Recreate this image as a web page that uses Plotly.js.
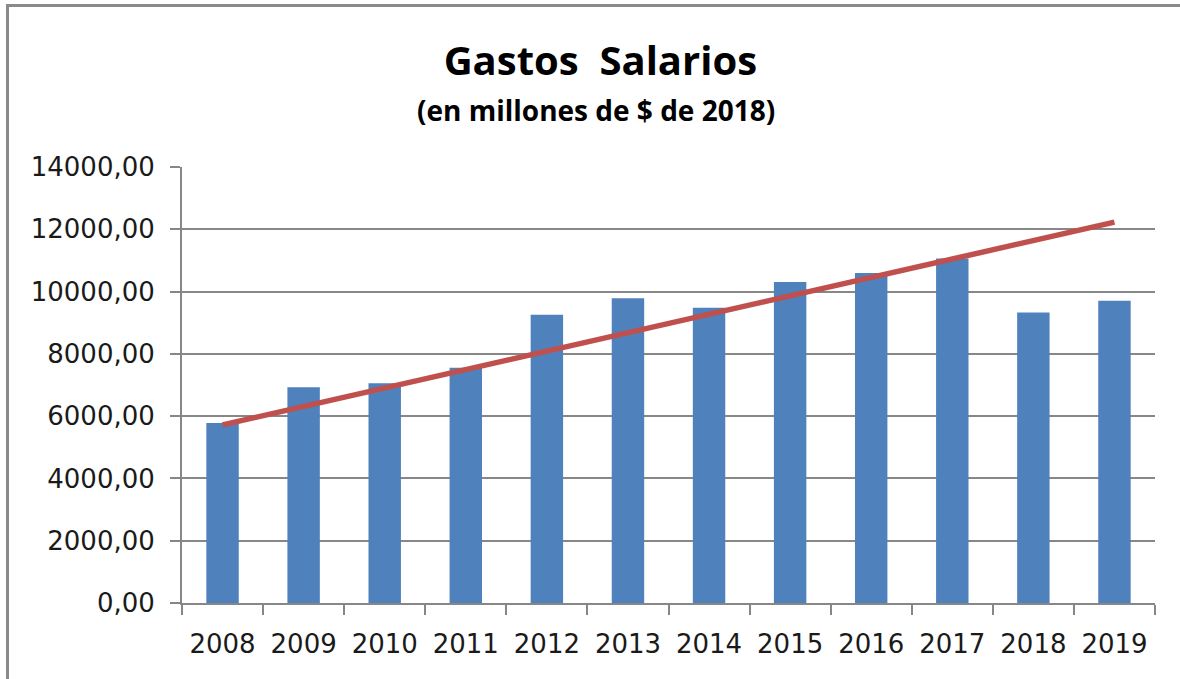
<!DOCTYPE html>
<html>
<head>
<meta charset="utf-8">
<script src="https://cdn.plot.ly/plotly-3.0.1.min.js"></script>
<style>
  html, body { margin: 0; padding: 0; background: #fff; overflow: hidden; }
  #frame { position: absolute; left: 6px; top: 4px; right: 0; bottom: 0; border-left: 3px solid #8a8a8a; border-top: 3px solid #8a8a8a; }
  #chart { position: absolute; left: 9px; top: 7px; width: 1171px; height: 672px; }
</style>
</head>
<body>
<div id="frame"></div>
<div id="chart"></div>
<script>
const years = ['2008', '2009', '2010', '2011', '2012', '2013', '2014', '2015', '2016', '2017', '2018', '2019'];
const salaries = [5780, 6925, 7060, 7555, 9255, 9785, 9480, 10310, 10600, 11060, 9330, 9705];

// straight red line drawn over the bars, read from its two ends
const trendYears = ['2008', '2019'];
const trendValues = [5720, 12230];

const yTicks = [0, 2000, 4000, 6000, 8000, 10000, 12000, 14000];

const axisGray = '#878787';
const labelFont = { family: 'DejaVu Sans, Verdana, sans-serif', size: 26, color: '#1a1a1a' };
const titleFamily = 'Open Sans, Lato, sans-serif';

const bars = {
  type: 'bar',
  x: years,
  y: salaries,
  marker: { color: '#4f81bd', line: { width: 0 } },
  hoverinfo: 'x+y',
  showlegend: false,
};

const trend = {
  type: 'scatter',
  mode: 'lines',
  x: trendYears,
  y: trendValues,
  line: { color: '#c0504d', width: 5.5 },
  hoverinfo: 'skip',
  showlegend: false,
};

const layout = {
  width: 1171,
  height: 672,
  paper_bgcolor: '#fff',
  plot_bgcolor: '#fff',
  separators: ',.',
  margin: { l: 173, r: 25, t: 160, b: 76 },
  bargap: 0.6,
  font: labelFont,
  title: {
    text: '<b>Gastos&nbsp; Salarios</b>',
    font: { family: titleFamily, size: 40, color: '#000' },
    x: 0.505,
    xref: 'container',
    xanchor: 'center',
    y: 0.92,
    yref: 'container',
    yanchor: 'middle',
  },
  annotations: [{
    text: '<b>(en millones de $ de 2018)</b>',
    font: { family: titleFamily, size: 28, color: '#000' },
    xref: 'paper',
    yref: 'paper',
    x: 0.425,
    y: 1.13,
    xanchor: 'center',
    yanchor: 'middle',
    showarrow: false,
  }],
  xaxis: {
    type: 'category',
    tickson: 'boundaries',
    ticks: 'outside',
    ticklen: 10,
    tickwidth: 2,
    tickcolor: axisGray,
    showline: true,
    linecolor: axisGray,
    linewidth: 2,
    showgrid: false,
    ticklabelstandoff: 17,
    tickfont: labelFont,
    fixedrange: true,
  },
  yaxis: {
    range: [0, 14000],
    tickvals: yTicks,
    tickformat: '.2f',
    ticks: 'outside',
    ticklen: 10,
    tickwidth: 2,
    tickcolor: axisGray,
    showline: true,
    linecolor: axisGray,
    linewidth: 2,
    showgrid: true,
    gridcolor: axisGray,
    gridwidth: 2,
    zeroline: false,
    ticklabelstandoff: 10,
    tickfont: labelFont,
    fixedrange: true,
  },
};

Plotly.newPlot('chart', [bars, trend], layout, { displayModeBar: false, staticPlot: true });
</script>
</body>
</html>
